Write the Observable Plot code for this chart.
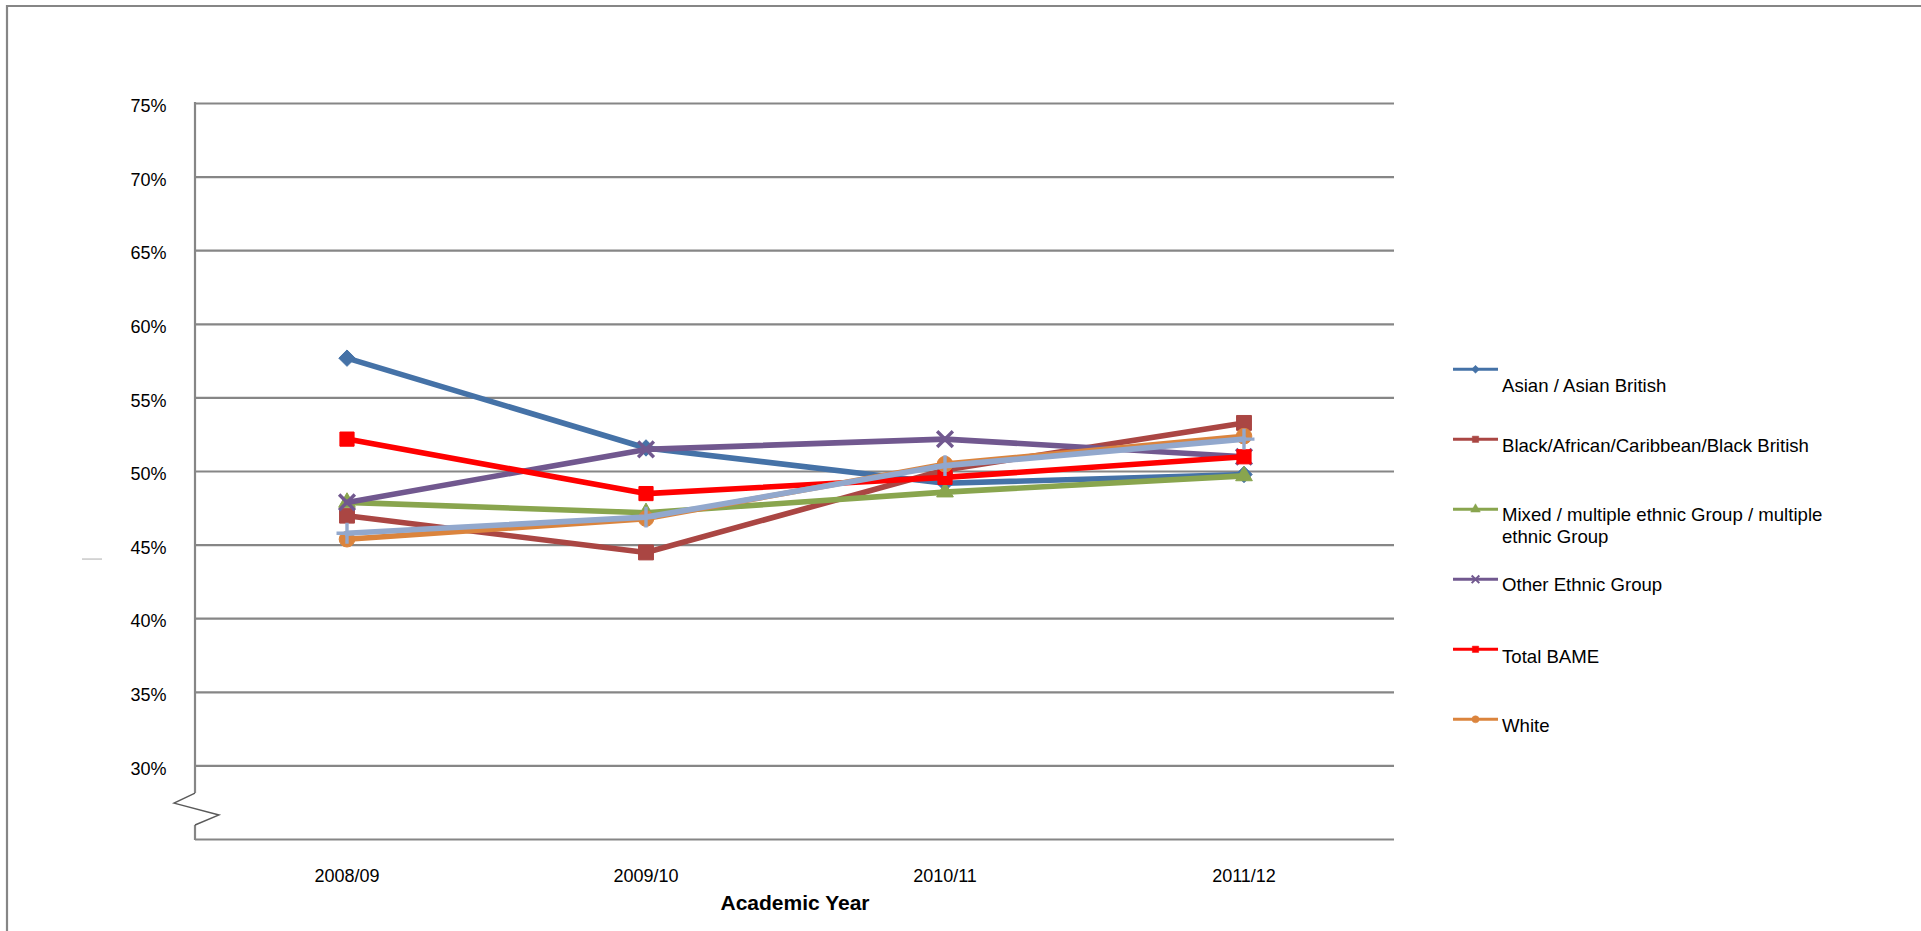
<!DOCTYPE html>
<html><head><meta charset="utf-8">
<script src="https://cdn.jsdelivr.net/npm/d3@7"></script>
<script src="https://cdn.jsdelivr.net/npm/@observablehq/plot@0.6"></script>
<style>
body{margin:0;background:#fff;overflow:hidden}
#chart{position:relative;width:1921px;height:931px}
</style>
</head><body><div id="chart"></div>
<script>
// ---- data ----
const years = ["2008/09", "2009/10", "2010/11", "2011/12"];
const seriesNames = [
  "Asian / Asian British",
  "Black/African/Caribbean/Black British",
  "Mixed / multiple ethnic Group / multiple ethnic Group",
  "Other Ethnic Group",
  "Total BAME",
  "White",
  "Unlabelled series"
];
const asian      = [57.7, 51.6, 49.2, 49.8];
const black      = [47.0, 44.5, 50.1, 53.3];
const mixed      = [47.9, 47.2, 48.6, 49.7];
const other      = [47.9, 51.5, 52.2, 51.0];
const totalBame  = [52.2, 48.5, 49.6, 51.0];
const white      = [45.4, 46.8, 50.5, 52.4];
const unlabelled = [45.8, 46.9, 50.4, 52.2];
const yTicks = [30, 35, 40, 45, 50, 55, 60, 65, 70, 75];
const yDomain = [25, 75];
const xTitle = "Academic Year";

// ---- styling ----
const colors  = ["#4572A7", "#AA4643", "#89A54E", "#71588F", "#FF0000", "#DB843D", "#92A8CD"];
const symbols = ["diamond2", "square", "triangle", "times", "square", "circle", "plus"];
const radii   = [7.4, 8.4, 6.2, 7.2, 8.0, 7.8, 6.8];
const stroked = [false, false, false, true, false, false, true];
const inLegend = [true, true, true, true, true, true, false];

const allValues = [asian, black, mixed, other, totalBame, white, unlabelled];
const rows = [];
allValues.forEach((vals, si) => vals.forEach((v, i) => rows.push({series: seriesNames[si], year: years[i], value: v, si})));

const W = 1921, H = 931, mL = 195, mR = 527, mT = 103, mB = 92;
const gridColor = "#868686";
const font = "'Liberation Sans', Arial, sans-serif";

const marks = [
  Plot.gridY(yTicks, {stroke: gridColor, strokeOpacity: 1, strokeWidth: 2.2}),
  Plot.ruleY([yDomain[0]], {stroke: gridColor, strokeWidth: 2.2}),
  Plot.axisY({ticks: yTicks, tickSize: 0, tickPadding: 29, fontSize: 18, dy: 3, tickFormat: d => d + "%", label: null}),
  Plot.axisX({tickSize: 0, tickPadding: 30, fontSize: 18, label: null}),
  Plot.text([xTitle], {frameAnchor: "bottom", dy: 70, fontSize: 21, fontWeight: "bold", fill: "#000"})
];
seriesNames.forEach((name, si) => {
  const d = rows.filter(r => r.si === si);
  marks.push(Plot.line(d, {x: "year", y: "value", stroke: colors[si], strokeWidth: 5.6, strokeLinejoin: "round"}));
  marks.push(Plot.dot(d, stroked[si]
    ? {x: "year", y: "value", symbol: () => symbols[si], r: radii[si], stroke: colors[si], strokeWidth: 3.4, fill: "none"}
    : {x: "year", y: "value", symbol: () => symbols[si], r: radii[si], fill: colors[si], stroke: colors[si], strokeWidth: 1}));
});

const plot = Plot.plot({
  width: W, height: H,
  marginLeft: mL, marginRight: mR, marginTop: mT, marginBottom: mB,
  style: {fontFamily: font, fontSize: "18px", color: "#000", background: "#fff", overflow: "visible"},
  x: {type: "band", domain: years, padding: 0},
  y: {domain: yDomain},
  symbol: {type: "identity"},
  marks
});
document.getElementById("chart").appendChild(plot);

// ---- overlay: frame, y axis with break, legend ----
const svg = d3.select(plot);
const ys = d3.scaleLinear().domain(yDomain).range([H - mB, mT]);
const g = svg.append("g").attr("text-anchor", "start");
// outer frame (top and left edges visible)
g.append("path").attr("d", `M7,${H}V6H${W}`).attr("fill", "none").attr("stroke", gridColor).attr("stroke-width", 2.2);
// y axis line with break symbol
g.append("line").attr("x1", mL).attr("x2", mL).attr("y1", ys(75) - 1).attr("y2", ys(28.12)).attr("stroke", gridColor).attr("stroke-width", 2.2);
g.append("line").attr("x1", mL).attr("x2", mL).attr("y1", ys(25.95)).attr("y2", ys(25) + 1).attr("stroke", gridColor).attr("stroke-width", 2.2);
g.append("path")
  .attr("d", `M${mL},${ys(28.12)}L${mL - 21},${ys(27.44)}L${mL + 24},${ys(26.63)}L${mL},${ys(25.95)}`)
  .attr("fill", "none").attr("stroke", "#5a5a5a").attr("stroke-width", 1.4);
// tiny faint mark at left (collapsed axis title)
g.append("rect").attr("x", 82).attr("y", 558.5).attr("width", 20).attr("height", 1.1).attr("fill", "#b5b5b5");

// legend
const lx0 = 1453, lx1 = 1498, tx = 1502;
const textOffsets = [16, 6, 5, 5, 7, 6];
let idx = 0;
seriesNames.forEach((name, si) => {
  if (!inLegend[si]) return;
  const ly = 369.3 + idx * 70;
  const lg = g.append("g");
  lg.append("line").attr("x1", lx0).attr("x2", lx1).attr("y1", ly).attr("y2", ly).attr("stroke", colors[si]).attr("stroke-width", 3);
  const sym = d3.symbol().type({
    diamond2: d3.symbolDiamond2, square: d3.symbolSquare, triangle: d3.symbolTriangle,
    times: d3.symbolTimes, circle: d3.symbolCircle, plus: d3.symbolPlus
  }[symbols[si]]).size(40);
  lg.append("path").attr("d", sym()).attr("transform", `translate(${(lx0 + lx1) / 2},${ly})`)
    .attr("fill", stroked[si] ? "none" : colors[si]).attr("stroke", colors[si]).attr("stroke-width", stroked[si] ? 2 : 0.5);
  // wrap long labels at ~40 characters
  const words = name.split(" ");
  const lines = [];
  let cur = "";
  words.forEach(w => {
    const t = cur ? cur + " " + w : w;
    if (t.length > 40 && cur) { lines.push(cur); cur = w; } else cur = t;
  });
  lines.push(cur);
  const text = lg.append("text").attr("x", tx).attr("y", ly + textOffsets[idx])
    .attr("text-anchor", "start")
    .attr("font-family", font).attr("font-size", 18.6).attr("fill", "#000").attr("dominant-baseline", "central");
  lines.forEach((ln, k) => text.append("tspan").attr("x", tx).attr("dy", k === 0 ? 0 : 22).text(ln));
  idx++;
});
</script>
</body></html>
